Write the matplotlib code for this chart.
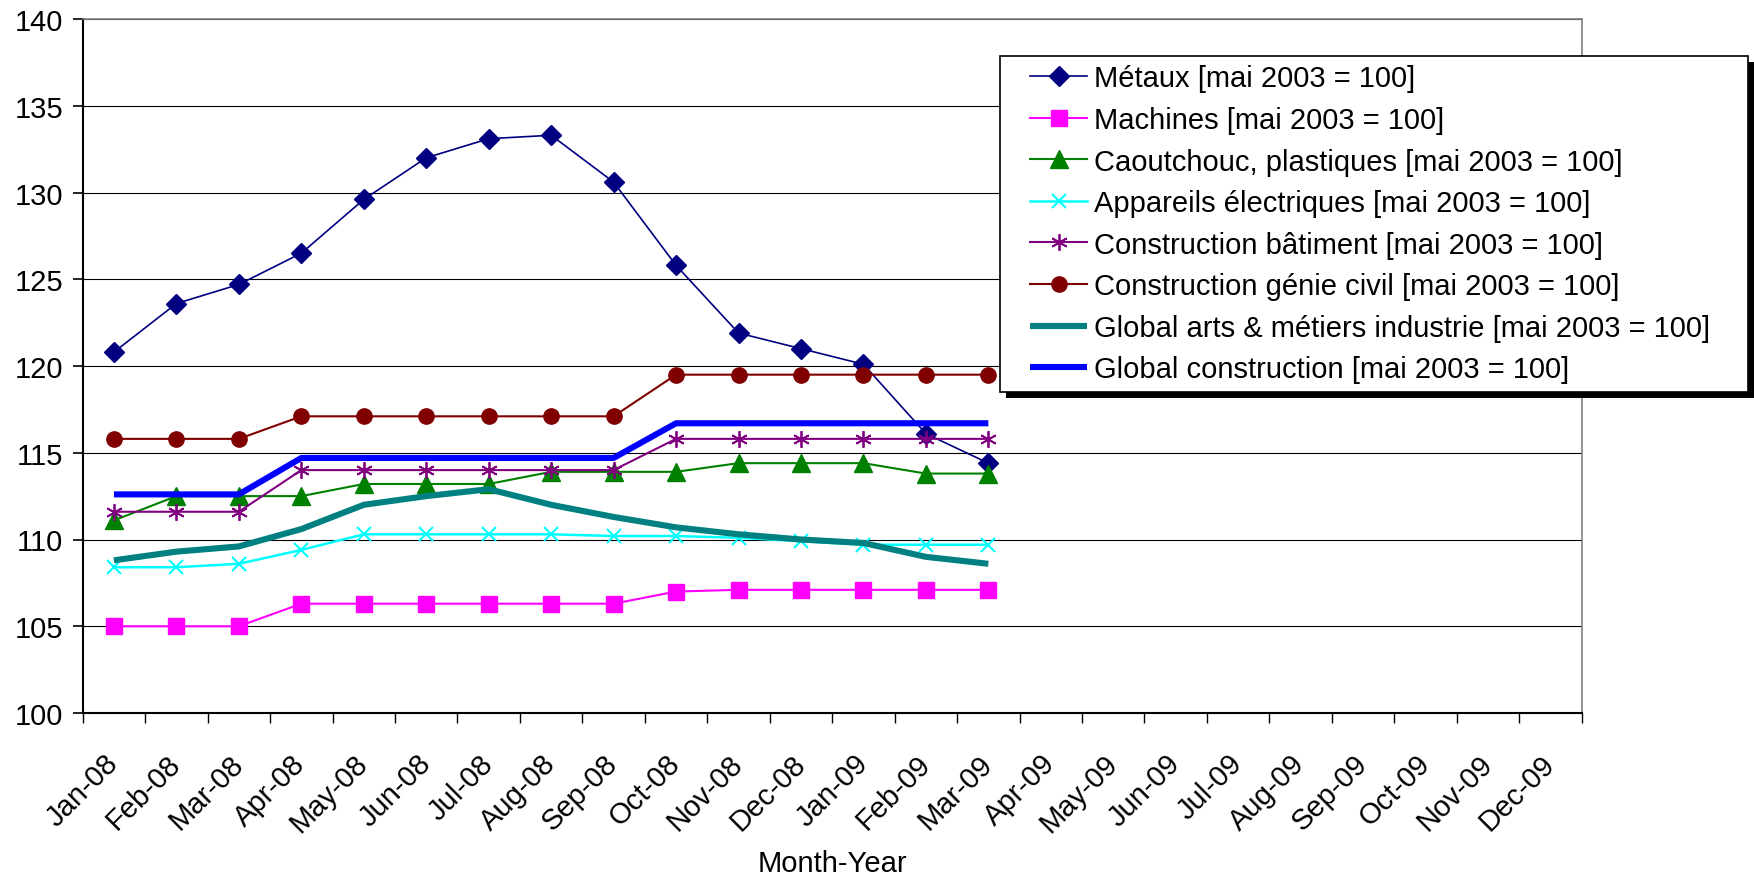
import matplotlib
matplotlib.use("Agg")
import matplotlib.pyplot as plt
import numpy as np
from matplotlib.lines import Line2D
from matplotlib.legend_handler import HandlerLine2D
from matplotlib.patches import Rectangle

plt.rcParams['font.family'] = ['Liberation Sans', 'DejaVu Sans']

months = ["Jan-08", "Feb-08", "Mar-08", "Apr-08", "May-08", "Jun-08", "Jul-08", "Aug-08",
          "Sep-08", "Oct-08", "Nov-08", "Dec-08", "Jan-09", "Feb-09", "Mar-09", "Apr-09",
          "May-09", "Jun-09", "Jul-09", "Aug-09", "Sep-09", "Oct-09", "Nov-09", "Dec-09"]

metaux = [120.8, 123.6, 124.7, 126.5, 129.6, 132.0, 133.1, 133.3, 130.6, 125.8, 121.9, 121.0, 120.1, 116.1, 114.4]
machines = [105.0, 105.0, 105.0, 106.3, 106.3, 106.3, 106.3, 106.3, 106.3, 107.0, 107.1, 107.1, 107.1, 107.1, 107.1]
caoutchouc = [111.1, 112.5, 112.5, 112.5, 113.2, 113.2, 113.2, 113.9, 113.9, 113.9, 114.4, 114.4, 114.4, 113.8, 113.8]
appareils = [108.4, 108.4, 108.6, 109.4, 110.3, 110.3, 110.3, 110.3, 110.2, 110.2, 110.1, 109.9, 109.7, 109.7, 109.7]
batiment = [111.6, 111.6, 111.6, 114.0, 114.0, 114.0, 114.0, 114.0, 114.0, 115.8, 115.8, 115.8, 115.8, 115.8, 115.8]
genie_civil = [115.8, 115.8, 115.8, 117.1, 117.1, 117.1, 117.1, 117.1, 117.1, 119.5, 119.5, 119.5, 119.5, 119.5, 119.5]
global_arts = [108.8, 109.3, 109.6, 110.6, 112.0, 112.5, 112.9, 112.0, 111.3, 110.7, 110.3, 110.0, 109.8, 109.0, 108.6]
global_constr = [112.6, 112.6, 112.6, 114.7, 114.7, 114.7, 114.7, 114.7, 114.7, 116.7, 116.7, 116.7, 116.7, 116.7, 116.7]

labels = ["Métaux [mai 2003 = 100]", "Machines [mai 2003 = 100]",
          "Caoutchouc, plastiques [mai 2003 = 100]", "Appareils électriques [mai 2003 = 100]",
          "Construction bâtiment [mai 2003 = 100]", "Construction génie civil [mai 2003 = 100]",
          "Global arts & métiers industrie [mai 2003 = 100]", "Global construction [mai 2003 = 100]"]

W, H = 1754, 878
AX_L, AX_R, AX_T, AX_B = 82.7, 1581.7, 20, 714
fig = plt.figure(figsize=(W / 100, H / 100), dpi=100)
ax = fig.add_axes([AX_L / W, 1 - AX_B / H, (AX_R - AX_L) / W, (AX_B - AX_T) / H])

x = np.arange(len(metaux))
ax.plot(x, metaux, color='#000080', marker='D', markersize=10, lw=1.2, label=labels[0])
ax.plot(x, machines, color='#FF00FF', marker='s', markersize=11, lw=1.5, label=labels[1])
ax.plot(x, caoutchouc, color='#008000', marker='^', markersize=13, lw=1.5, label=labels[2])
ax.plot(x, appareils, color='#00FFFF', marker='x', markersize=10, mew=1.5, lw=1.8, label=labels[3])
ax.plot(x, batiment, color='#800080', marker=(6, 2, 0), markersize=12, mew=1.3, lw=1.5, label=labels[4])
ax.plot(x, genie_civil, color='#800000', marker='o', markersize=11, lw=1.5, label=labels[5])
ax.plot(x, global_arts, color='#008080', lw=4.4, solid_capstyle='butt', label=labels[6])
ax.plot(x, global_constr, color='#0000FF', lw=4.4, solid_capstyle='butt', label=labels[7])

ax.set_xlim(-0.5, len(months) - 0.5)
ax.set_ylim(100, 140)
ax.set_yticks(np.arange(100, 141, 5))
ax.yaxis.grid(True, color='black', lw=0.8)
ax.set_axisbelow(True)
ax.tick_params(axis='y', labelsize=21, length=7, width=1.2, direction='out', pad=7)

ax.set_xticks(np.arange(len(months) + 1) - 0.5)
ax.set_xticklabels([])
ax.tick_params(axis='x', which='major', length=7, width=1, direction='out')
ax.set_xticks(np.arange(len(months)), minor=True)
ax.set_xticklabels(months, minor=True, rotation=45, ha='right', va='center',
                   rotation_mode='anchor', fontsize=21)
ax.tick_params(axis='x', which='minor', length=0, pad=33)

for s in ['top', 'right']:
    ax.spines[s].set_color('#808080')
    ax.spines[s].set_linewidth(1.2)
for s in ['left', 'bottom']:
    ax.spines[s].set_color('black')
    ax.spines[s].set_linewidth(1.5)

ax.set_xlabel("Month-Year", fontsize=21)
ax.xaxis.label.set_va('center')
ax.xaxis.set_label_coords(0.5, (AX_B - 864) / (AX_B - AX_T))

LEG_L, LEG_R, LEG_T = 999.8, 1748, 56.7
x0 = (LEG_L - AX_L) / (AX_R - AX_L)
w = (LEG_R - LEG_L) / (AX_R - AX_L)
y1 = (AX_B - LEG_T) / (AX_B - AX_T)
leg = ax.legend(loc='upper left', bbox_to_anchor=(x0, y1 - 0.5, w, 0.5), mode='expand',
                fontsize=21, frameon=True, fancybox=False, shadow=False,
                borderpad=0.3, labelspacing=0.465, handlelength=2.7, handletextpad=0.24,
                borderaxespad=0, handler_map={Line2D: HandlerLine2D(xpad=0.75)})
leg.get_frame().set_edgecolor('black')
leg.get_frame().set_linewidth(1.2)
leg.get_frame().set_alpha(None)
leg.get_frame().set_facecolor('white')

fig.canvas.draw()
bb = leg.get_window_extent()
shadow = Rectangle((bb.x0 + 6, bb.y0 - 6), bb.width, bb.height, transform=None,
                   facecolor='black', edgecolor='none', zorder=leg.get_zorder() - 0.1,
                   clip_on=False)
ax.add_artist(shadow)

fig.savefig("out.png", dpi=100, facecolor='white')
